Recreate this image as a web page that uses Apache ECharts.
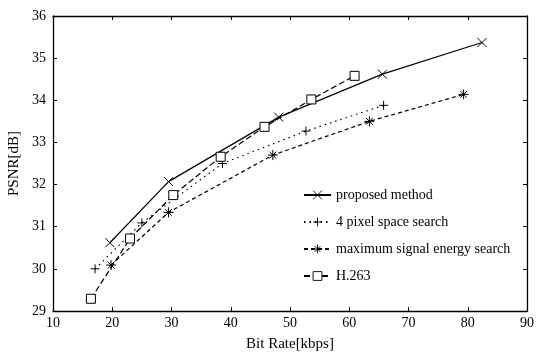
<!DOCTYPE html>
<html>
<head>
<meta charset="utf-8">
<script src="https://cdn.jsdelivr.net/npm/echarts@6/dist/echarts.min.js"></script>
<style>
  html, body { margin: 0; padding: 0; background: #fff; }
  #chart { width: 537px; height: 352px; }
</style>
</head>
<body>
<div id="chart"></div>
<script>
// [bit rate kbps, PSNR dB]
const proposed = [[19.6, 30.62], [29.5, 32.07], [48.1, 33.6], [65.6, 34.62], [82.4, 35.37]];
const pixel4 = [[17.1, 30.0], [25.0, 31.09], [38.6, 32.5], [52.7, 33.27], [65.8, 33.88]];
const maxEnergy = [[19.8, 30.09], [29.5, 31.34], [47.1, 32.7], [63.4, 33.5], [79.3, 34.14]];
const h263 = [[16.4, 29.29], [23.0, 30.72], [30.3, 31.75], [38.3, 32.66], [45.7, 33.37], [53.6, 34.02], [60.9, 34.58]];

const seriesNames = ["proposed method", "4 pixel space search", "maximum signal energy search", "H.263"];

const FONT = "Liberation Serif";

const crossSym = "path://M0,0L10,10M10,0L0,10";
const plusSym = "path://M5,0L5,10M0,5L10,5";
const starSym = "path://M5,0L5,10M0,5L10,5M1.6,1.6L8.4,8.4M8.4,1.6L1.6,8.4";

const chart = echarts.init(document.getElementById("chart"));

function lineSeries(name, data, symbol, size, lineType, fill) {
  return {
    name: name,
    type: "line",
    data: data,
    symbol: symbol,
    symbolSize: size,
    showAllSymbol: true,
    lineStyle: { color: "#000", width: 1.2, type: lineType },
    itemStyle: { color: fill, borderColor: "#000", borderWidth: 1 },
    z: 3
  };
}

const option = {
  backgroundColor: "#fff",
  animation: false,
  grid: { left: 53, right: 10, top: 16, bottom: 41, outerBoundsMode: "none" },
  legend: {
    data: seriesNames,
    orient: "vertical",
    left: 303,
    top: 188,
    padding: 0,
    itemWidth: 27,
    itemHeight: 11,
    itemGap: 13,
    itemStyle: { borderWidth: 0.9 },
    textStyle: { fontFamily: FONT, fontSize: 14, color: "#000" }
  },
  xAxis: [
    {
      type: "value", min: 10, max: 90, interval: 10,
      name: "Bit Rate[kbps]", nameLocation: "middle", nameGap: 26,
      nameTextStyle: { fontFamily: FONT, fontSize: 15, color: "#000" },
      axisLine: { lineStyle: { color: "#000", width: 1.3 } },
      axisTick: { inside: true, length: 4, lineStyle: { color: "#000" } },
      axisLabel: { fontFamily: FONT, fontSize: 14, color: "#000", margin: 5 },
      splitLine: { show: false }
    },
    {
      type: "value", position: "top", min: 10, max: 90, interval: 10,
      axisLine: { lineStyle: { color: "#000", width: 1.3 } },
      axisTick: { inside: true, length: 4, lineStyle: { color: "#000" } },
      axisLabel: { show: false },
      splitLine: { show: false }
    }
  ],
  yAxis: [
    {
      type: "value", min: 29, max: 36, interval: 1,
      name: "PSNR[dB]", nameLocation: "middle", nameGap: 29,
      nameTextStyle: { fontFamily: FONT, fontSize: 15, color: "#000" },
      axisLine: { show: true, lineStyle: { color: "#000", width: 1.3 } },
      axisTick: { show: true, inside: true, length: 4, lineStyle: { color: "#000" } },
      axisLabel: { fontFamily: FONT, fontSize: 14, color: "#000", margin: 7 },
      splitLine: { show: false }
    },
    {
      type: "value", position: "right", min: 29, max: 36, interval: 1,
      axisLine: { show: true, lineStyle: { color: "#000", width: 1.3 } },
      axisTick: { show: true, inside: true, length: 4, lineStyle: { color: "#000" } },
      axisLabel: { show: false },
      splitLine: { show: false }
    }
  ],
  series: [
    lineSeries(seriesNames[0], proposed, crossSym, 9, "solid", "#000"),
    lineSeries(seriesNames[1], pixel4, plusSym, 9, [1.5, 4], "#000"),
    lineSeries(seriesNames[2], maxEnergy, starSym, 10, [4, 3], "#000"),
    lineSeries(seriesNames[3], h263, "rect", 9, [6, 3], "#fff")
  ]
};

chart.setOption(option);
</script>
</body>
</html>
